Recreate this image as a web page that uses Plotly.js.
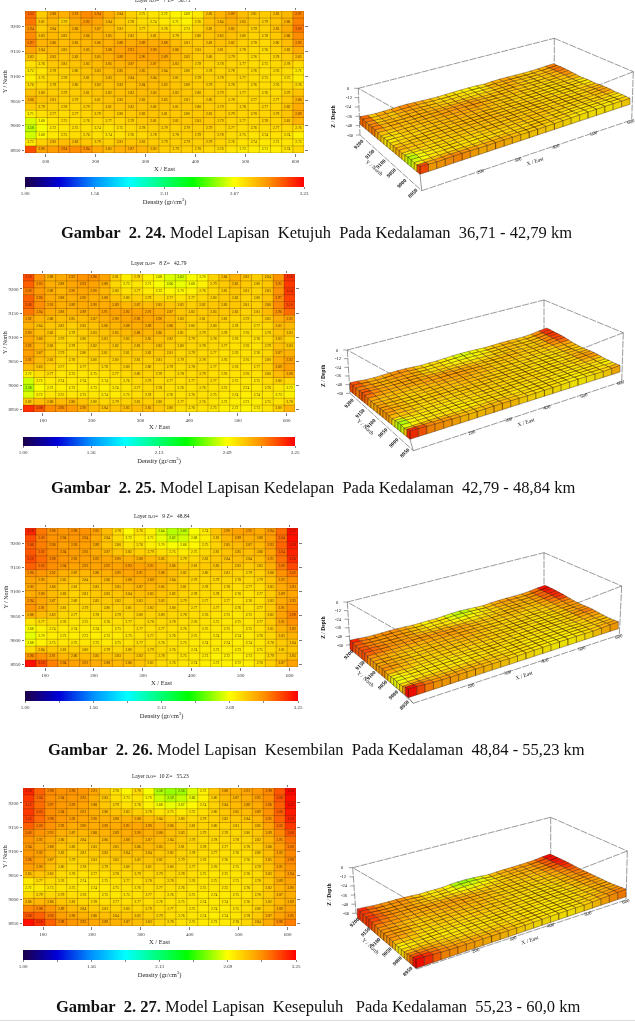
<!DOCTYPE html>
<html><head><meta charset="utf-8">
<script src="https://cdn.plot.ly/plotly-3.0.1.min.js"></script>
<style>html,body{margin:0;padding:0;background:#fff;overflow:hidden}#g{width:635px;height:1025px;filter:blur(.35px)}</style>
</head><body><div id="g"></div>
<script>
// density x100, rows north to south, columns west to east
const density7=[
[302,280,288,287,291,296,294,288,284,279,275,274,272,270,269,273,283,286,289,284,281,280,283,285,297],
[300,281,285,279,288,292,290,284,281,278,276,274,273,271,270,276,283,284,287,283,281,279,282,286,298],
[294,280,284,282,286,288,287,284,281,279,277,277,276,274,273,278,282,284,285,282,279,279,283,288,300],
[296,283,285,283,285,286,286,285,283,282,281,281,281,278,277,280,282,283,283,280,278,278,281,286,296],
[297,286,286,284,285,285,286,287,288,288,289,288,288,284,281,281,282,283,282,279,278,277,280,284,293],
[290,284,285,283,284,285,286,288,290,291,291,290,290,286,282,281,281,281,280,278,277,276,279,282,288],
[282,279,283,282,283,284,285,287,289,290,290,290,289,285,282,280,280,279,279,277,276,276,278,280,283],
[275,276,281,281,282,283,284,285,286,287,287,287,286,283,281,279,279,278,278,277,276,275,277,278,276],
[272,274,279,279,280,282,283,284,285,285,285,285,284,282,280,279,278,278,278,277,276,275,276,276,272],
[271,275,278,278,280,281,282,283,283,284,284,284,283,281,280,279,279,278,278,277,276,275,275,275,272],
[276,277,279,279,280,281,282,282,283,283,284,284,283,282,280,280,279,279,278,277,276,276,276,277,276],
[282,280,280,279,280,281,282,282,283,283,284,283,283,282,281,280,280,279,278,277,277,276,276,279,282],
[286,282,281,279,279,280,281,282,282,283,283,283,283,282,281,280,280,279,278,277,277,277,277,281,286],
[281,279,279,278,278,279,280,281,282,282,282,282,282,281,281,280,280,279,278,278,277,277,278,282,288],
[271,275,277,276,277,278,279,280,280,281,282,282,281,281,280,281,281,280,279,278,278,278,279,282,289],
[262,268,274,275,275,276,277,277,278,279,281,281,280,281,281,281,281,279,278,277,277,278,278,281,286],
[258,266,272,274,275,275,274,274,275,277,278,279,279,279,279,280,279,278,277,276,276,276,277,277,276],
[261,268,273,275,276,276,275,274,275,276,277,278,278,278,279,279,278,278,276,275,274,274,275,274,271],
[272,279,282,284,283,281,279,279,281,281,281,280,279,279,279,279,279,278,276,274,274,273,273,274,273],
[308,290,292,294,296,294,289,285,287,287,286,283,280,279,279,278,277,276,274,272,272,271,272,274,277]];
const density8=[
[310,296,288,290,292,296,296,292,281,273,278,272,268,264,263,268,270,280,284,288,283,281,284,296,316],
[306,295,289,288,291,293,292,288,279,273,275,271,268,266,266,268,272,279,282,285,282,280,283,295,314],
[300,294,289,287,290,291,290,287,280,276,277,274,272,271,270,272,276,279,281,283,281,280,283,296,314],
[306,296,290,288,289,290,289,288,284,280,281,279,278,277,276,277,279,280,282,282,280,280,284,297,312],
[306,297,291,289,289,290,290,290,289,287,287,286,285,284,282,281,282,283,283,283,281,281,286,298,310],
[302,294,290,288,288,289,290,291,292,292,292,291,290,287,283,282,282,283,283,282,280,281,286,296,304],
[292,288,286,285,285,286,287,289,290,291,292,291,290,287,283,281,281,282,281,279,279,279,282,290,292],
[288,284,283,282,281,283,284,286,287,288,289,289,288,286,283,280,280,280,279,278,278,277,279,285,286],
[290,285,283,280,279,281,283,284,285,286,288,287,286,284,281,279,279,279,278,277,276,276,278,284,283],
[291,286,283,279,279,280,282,283,283,283,285,285,284,282,280,279,278,278,277,276,276,276,278,283,280],
[292,287,283,279,279,280,282,282,282,282,283,283,283,281,280,279,278,278,277,276,276,276,279,285,283],
[293,287,283,279,279,280,281,281,281,281,282,282,282,281,279,279,278,277,276,276,276,276,279,287,288],
[292,286,283,279,278,279,280,280,280,281,281,281,281,280,279,278,278,277,276,276,276,277,280,289,292],
[286,283,281,277,276,277,278,278,279,280,280,280,280,279,278,278,278,277,276,276,276,277,280,289,293],
[272,277,277,275,275,275,275,276,277,278,280,280,279,278,278,278,279,277,276,276,276,276,280,286,288],
[262,272,274,274,274,274,274,274,275,276,278,279,278,277,277,277,278,277,275,275,275,275,278,280,279],
[258,268,272,273,273,273,273,273,274,275,277,278,278,277,276,276,276,276,275,274,274,274,276,275,272],
[264,272,275,275,275,275,275,274,274,275,277,278,277,276,276,276,276,275,274,274,273,274,275,273,272],
[282,285,286,286,286,284,280,279,279,280,281,281,280,278,277,276,276,275,273,273,272,273,275,276,278],
[316,308,298,296,294,290,286,284,284,285,286,285,283,280,277,276,276,275,273,272,272,273,276,280,288]];
const density9=[
[318,302,296,295,296,296,292,286,278,270,276,272,264,259,260,268,274,284,290,292,292,290,294,304,322],
[310,300,296,294,295,294,290,284,278,272,274,271,266,262,263,268,273,281,287,289,289,288,293,304,322],
[306,300,296,293,293,293,289,284,280,276,276,273,270,268,268,271,275,280,285,286,287,287,293,305,320],
[308,302,297,294,293,292,290,287,284,282,281,279,277,275,274,275,278,281,284,285,285,286,292,304,318],
[310,304,298,295,293,293,292,291,290,289,288,287,285,282,279,279,281,283,284,285,284,285,291,303,316],
[306,302,297,294,292,292,292,292,292,293,292,291,289,286,283,281,282,283,283,283,282,283,289,300,311],
[296,295,292,289,287,287,288,289,290,291,291,290,288,285,282,280,280,281,281,280,279,281,286,296,302],
[292,290,288,285,283,284,285,286,287,288,289,289,287,284,281,279,279,279,279,278,278,279,284,292,296],
[290,289,286,283,281,282,283,284,285,286,287,287,285,283,281,279,278,278,278,277,277,278,283,290,293],
[290,290,286,283,280,281,283,283,283,284,285,285,284,282,280,278,278,278,277,276,276,277,282,289,291],
[294,291,287,283,280,280,282,282,282,282,283,284,283,281,279,278,277,277,277,276,276,277,282,290,293],
[296,291,286,281,279,279,280,280,281,281,282,282,281,280,279,277,277,277,276,276,276,277,282,291,296],
[288,286,283,279,277,277,278,279,279,279,280,280,280,279,278,277,276,276,275,275,275,277,282,292,299],
[276,277,278,276,275,275,275,276,277,277,278,278,278,278,277,276,276,275,275,275,275,277,282,291,296],
[268,272,274,274,274,274,274,274,275,276,277,277,277,277,276,276,275,275,275,275,275,277,281,288,292],
[265,270,273,273,273,273,273,273,274,275,276,277,277,276,276,275,274,274,274,274,274,276,279,285,288],
[268,272,275,275,275,275,275,274,275,276,277,277,276,275,275,274,274,274,274,273,274,275,278,282,284],
[278,284,283,281,281,280,279,279,279,280,280,279,278,276,275,274,274,273,273,273,273,275,278,281,283],
[296,296,291,287,286,286,285,284,283,283,282,280,278,276,275,274,273,272,272,272,273,275,279,283,285],
[322,310,300,294,292,291,290,288,287,286,284,281,278,276,275,274,273,272,272,272,273,276,281,287,292]];
const density10=[
[318,306,298,296,296,295,291,284,276,271,278,268,258,255,256,264,272,283,288,289,291,294,298,308,324],
[314,304,297,294,294,293,289,283,277,273,276,270,262,259,261,266,272,280,286,287,289,292,297,308,322],
[312,304,297,294,293,292,288,283,279,276,276,272,268,266,267,270,274,280,284,286,288,290,296,306,322],
[314,305,297,294,292,291,289,286,284,282,281,278,276,275,274,275,277,280,283,285,286,289,296,306,320],
[312,304,298,294,292,291,290,289,288,288,288,286,284,282,280,279,279,281,282,283,284,287,295,305,318],
[306,300,296,292,290,290,290,290,290,291,291,290,288,286,283,281,280,280,280,281,282,285,292,302,314],
[300,296,293,289,287,287,288,288,289,290,290,289,288,285,283,280,279,279,279,279,280,283,289,298,308],
[296,292,290,286,284,284,285,286,287,288,288,287,286,284,282,279,278,278,278,278,279,282,287,295,303],
[294,291,288,284,282,282,283,284,285,286,286,286,285,283,281,279,278,277,277,277,278,281,286,293,300],
[294,292,288,283,280,281,282,283,283,284,284,284,283,282,280,278,277,277,276,276,277,280,285,292,298],
[296,292,287,282,279,280,281,281,282,282,282,283,282,281,279,278,276,276,276,276,276,279,285,292,298],
[293,290,285,280,278,278,279,279,280,280,281,281,281,280,279,277,276,276,275,275,276,279,284,291,296],
[285,284,282,278,276,276,277,277,278,278,279,279,279,279,278,277,275,275,275,275,276,278,283,290,294],
[274,277,278,276,275,274,275,275,276,277,277,278,278,278,277,276,275,275,275,275,276,278,283,289,292],
[272,274,275,275,275,274,274,274,275,276,276,277,277,277,276,275,275,275,275,275,276,278,282,288,290],
[278,279,279,279,277,276,275,275,275,275,276,277,277,276,276,275,274,274,274,275,276,278,282,287,289],
[286,287,286,283,281,279,278,277,277,277,277,277,276,276,275,275,274,274,274,275,276,279,282,287,289],
[298,298,295,289,286,284,282,281,280,280,279,279,278,277,276,275,274,274,274,275,277,280,284,289,292],
[308,306,300,293,290,288,286,285,284,283,282,281,279,277,276,275,274,273,274,275,278,282,287,292,295],
[322,316,306,298,295,293,291,289,288,287,285,283,280,278,276,275,274,273,274,276,279,284,290,296,300]];

const eastTicks=[100,200,300,400,500,600];
const northTicks=[8950,9000,9050,9100,9150,9200];
const depthTicks=[0,-12,-24,-36,-48,-60];
const barLabels7=['1.00','1.56','2.11','2.67','3.23'];
const barLabels8=['1.00','1.56','2.13','2.69','3.25'];
const layerTitles=['Layer n.o=   7 Z=   36.71','Layer n.o=   8 Z=   42.79','Layer n.o=   9 Z=   48.84','Layer n.o=  10 Z=   55.23'];
const captionHeads=['Gambar\u00a0 2. 24.','Gambar\u00a0 2. 25.','Gambar\u00a0 2. 26.','Gambar\u00a0 2. 27.'];
const captionTails=[
 ' Model Lapisan\u00a0 Ketujuh\u00a0 Pada Kedalaman\u00a0 36,71 - 42,79 km',
 ' Model Lapisan Kedelapan\u00a0 Pada Kedalaman\u00a0 42,79 - 48,84 km',
 ' Model Lapisan\u00a0 Kesembilan\u00a0 Pada Kedalaman\u00a0 48,84 - 55,23 km',
 ' Model Lapisan\u00a0 Kesepuluh\u00a0\u00a0 Pada Kedalaman\u00a0 55,23 - 60,0 km'];

const W=635,H=1025, SERIF='"Liberation Serif",serif';
const px=x=>x/W, py=y=>1-y/H;
const colorStops=[[0,'#1c0048'],[.125,'#0000d8'],[.25,'#0090ff'],[.375,'#00ffff'],[.6,'#00ff00'],[.75,'#ffff00'],[.875,'#ff9000'],[1,'#ff0000']];
const panels=[
 {z:density7,zmax:3.23,bar:barLabels7,hm:[25,304,11,153],cb:[25,304,177,187],tx:163,ty:0,cap:[59,233],
  top:[[358.3,88.3],[554.3,38.3],[633.3,71.7]],bot:[[360,135],[421.7,190.7],[631.7,120]],
  s:{L:[360,118.3],F:[420,168.3],R:[630,98.3],B:[553.3,65]}},
 {z:density8,zmax:3.25,bar:barLabels8,hm:[23,295,274,412],cb:[23,295,437,446],tx:159,ty:263,cap:[49,487],
  top:[[347.3,350],[544,300],[623.3,332.7]],bot:[[350,393.3],[413.3,450.7],[621.7,381.7]],
  s:{L:[350,385],F:[410,433.3],R:[620,366],B:[546.7,330.7]}},
 {z:density9,zmax:3.25,bar:barLabels8,hm:[25,298,528,667],cb:[25,298,691,701],tx:162,ty:516,cap:[46,749],
  top:[[347.3,602],[544,552.7],[621.7,586]],bot:[[350,645],[413.3,703.3],[619.3,635]],
  s:{L:[350,643],F:[408.3,691.7],R:[618.3,622.7],B:[545,588.3]}},
 {z:density10,zmax:3.25,bar:barLabels8,hm:[23,296,788,926],cb:[23,296,950,960],tx:160,ty:776,cap:[54,1006],
  top:[[352.7,867.7],[550.7,817.3],[627.3,851]],bot:[[356,913.3],[416.7,969],[626,900]],
  s:{L:[357.3,911.7],F:[416,962.3],R:[626,890.7],B:[550,857.3]}}];

const xMin=59,xMax=617,yMin=8945,yMax=9231,nc=25,nr=20;
const dx=(xMax-xMin)/nc,dy=(yMax-yMin)/nr;
const xc=Array.from({length:nc},(_,i)=>xMin+(i+.5)*dx);
const yc=Array.from({length:nr},(_,i)=>yMax-(i+.5)*dy);

function hex(h){return [1,3,5].map(i=>parseInt(h.substr(i,2),16));}
function colorOf(v,zmax,f){
  const t=Math.max(0,Math.min(1,(v-1)/(zmax-1)));
  let i=0;while(i<colorStops.length-2&&t>colorStops[i+1][0])i++;
  const a=colorStops[i],b=colorStops[i+1],k=(t-a[0])/(b[0]-a[0]);
  const A=hex(a[1]),B=hex(b[1]);
  return 'rgb('+A.map((c,j)=>Math.round((c+(B[j]-c)*k)*f)).join(',')+')';
}
const traces=[],annotations=[],shapes=[];
const layout={width:W,height:H,margin:{l:0,r:0,t:0,b:0,autoexpand:false},paper_bgcolor:'#fff',plot_bgcolor:'rgba(0,0,0,0)',showlegend:false,font:{family:SERIF,color:'#222'}};

// overlay axes in page pixels for the oblique block views
layout.xaxis9={domain:[0,1],range:[0,W],visible:false,fixedrange:true,anchor:'y9'};
layout.yaxis9={domain:[0,1],range:[H,0],visible:false,fixedrange:true,anchor:'x9'};
function label(x,y,text,size,angle,bold){annotations.push({xref:'x9',yref:'y9',x,y,text:bold?'<b>'+text+'</b>':text,showarrow:false,textangle:angle,font:{size,family:SERIF,color:'#111'},xanchor:'center',yanchor:'middle'});}
function pageText(x,y,text,size,extra){annotations.push(Object.assign({xref:'paper',yref:'paper',x:px(x),y:py(y),text,showarrow:false,xanchor:'center',yanchor:'middle',font:{size,family:SERIF,color:'#222'}},extra||{}));}

panels.forEach((p,k)=>{
  const n=k+1,xa='x'+n,ya='y'+n,[x0,x1,y0,y1]=p.hm,vals=p.z.map(r=>r.map(v=>v/100));
  traces.push({type:'heatmap',xaxis:xa,yaxis:ya,x:xc,y:yc.slice().reverse(),z:vals.slice().reverse(),zmin:1,zmax:p.zmax,colorscale:colorStops,hoverinfo:'skip',zsmooth:false,
    showscale:true,colorbar:{orientation:'h',x:px(p.cb[0]),xanchor:'left',y:py(p.cb[2]),yanchor:'top',len:p.cb[1]-p.cb[0],lenmode:'pixels',thickness:p.cb[3]-p.cb[2],thicknessmode:'pixels',xpad:0,ypad:0,outlinewidth:0,borderwidth:0,
      tickmode:'array',tickvals:[0,1,2,3,4,5,6,7,8].map(i=>1+i*(p.zmax-1)/8),ticktext:[0,1,2,3,4,5,6,7,8].map(i=>i%2?' ':p.bar[i/2]),ticks:'outside',ticklen:2,tickwidth:.6,tickcolor:'#333',tickfont:{size:5,family:SERIF,color:'#333'},
      title:{text:'Density (gr/cm<sup>3</sup>)',side:'bottom',font:{size:6.5,family:SERIF,color:'#222'}}}});
  // cell edges
  const ex=[],ey=[];
  for(let i=0;i<=nc;i++){ex.push(xMin+i*dx,xMin+i*dx,null);ey.push(yMin,yMax,null);}
  for(let j=0;j<=nr;j++){ex.push(xMin,xMax,null);ey.push(yMin+j*dy,yMin+j*dy,null);}
  traces.push({type:'scatter',mode:'lines',xaxis:xa,yaxis:ya,x:ex,y:ey,line:{color:'rgba(70,40,0,.6)',width:.5},hoverinfo:'skip'});
  // staggered value labels
  const lx=[],ly=[],lt=[];
  vals.forEach((row,r)=>row.forEach((v,c)=>{if((r+c)%2==0){lx.push(xc[c]);ly.push(yc[r]);lt.push(v.toFixed(2));}}));
  traces.push({type:'scatter',mode:'text',xaxis:xa,yaxis:ya,x:lx,y:ly,text:lt,textfont:{size:3.6,family:SERIF,color:'rgba(50,25,0,.9)'},hoverinfo:'skip'});
  const ax={fixedrange:true,showgrid:false,zeroline:false,showline:false,ticks:'outside',ticklen:2.5,tickwidth:.6,tickcolor:'#222',mirror:'ticks',tickfont:{size:5,family:SERIF,color:'#333'},tickmode:'array'};
  layout['xaxis'+n]=Object.assign({},ax,{domain:[px(x0),px(x1)],range:[xMin,xMax],anchor:ya,tickvals:eastTicks,ticktext:eastTicks.map(String)});
  layout['yaxis'+n]=Object.assign({},ax,{domain:[py(y1),py(y0)],range:[yMin,yMax],anchor:xa,tickvals:northTicks,ticktext:northTicks.map(String)});
  pageText((x0+x1)/2,y1+15,'X / East',6.5);
  pageText(5,(y0+y1)/2,'Y / North',6,{textangle:-90});
  pageText(p.tx,p.ty,layerTitles[k].replace(/ /g,'\u00a0'),5.5);
  annotations.push({xref:'paper',yref:'paper',x:px(p.cap[0]),y:py(p.cap[1]),xanchor:'left',yanchor:'middle',text:'<b>'+captionHeads[k]+'</b>'+captionTails[k],showarrow:false,font:{size:16.5,family:SERIF,color:'#111'}});

  // oblique view: u runs west to east, v south to north
  const S=p.s;
  const base=(u,v)=>[0,1].map(i=>(1-u)*(1-v)*S.F[i]+u*(1-v)*S.R[i]+(1-u)*v*S.L[i]+u*v*S.B[i]);
  const rel=v=>Math.abs(v-2.78)*7;
  const vert=(c,r)=>{ // vertex at column line c, row line r
    let s=0,m=0;
    for(const [a,b] of [[c-1,r-1],[c,r-1],[c-1,r],[c,r]]) if(a>=0&&a<nc&&b>=0&&b<nr){s+=vals[b][a];m++;}
    const q=base(c/nc,1-r/nr);
    return [q[0],q[1]-rel(s/m)];
  };
  const bot=(c,r)=>{const q=base(c/nc,1-r/nr);return [q[0],q[1]+6];};
  // box
  const [tL,tB,tR]=p.top,[bL,bF,bR]=p.bot;
  const tF=[tL[0]+tR[0]-tB[0]+16,tL[1]+tR[1]-tB[1]+20];
  const edges=[[tL,tB],[tB,tR],[tR,tF],[tF,tL],[tL,bL],[tR,bR],[tB,[tB[0],tB[1]+60]],[bL,bF],[bF,bR]];
  const bx=[],by=[];edges.forEach(e=>{bx.push(e[0][0],e[1][0],null);by.push(e[0][1],e[1][1],null);});
  traces.push({type:'scatter',mode:'lines',xaxis:'x9',yaxis:'y9',x:bx,y:by,line:{color:'#555',width:.6,dash:'7px,1.2px'},hoverinfo:'skip'});
  // polygons grouped by colour
  const groups=new Map();
  const add=(poly,v,f)=>{const q=Math.round(v*50)/50,key=f+'|'+q;if(!groups.has(key))groups.set(key,{f,q,x:[],y:[]});const g=groups.get(key);poly.concat([poly[0]]).forEach(a=>{g.x.push(a[0]);g.y.push(a[1]);});g.x.push(null);g.y.push(null);};
  for(let r=0;r<nr;r++)add([vert(0,r),vert(0,r+1),bot(0,r+1),bot(0,r)],vals[r][0],.92);
  for(let c=0;c<nc;c++)add([vert(c,nr),vert(c+1,nr),bot(c+1,nr),bot(c,nr)],vals[nr-1][c],.92);
  for(let r=0;r<nr;r++)for(let c=0;c<nc;c++)add([vert(c,r),vert(c+1,r),vert(c+1,r+1),vert(c,r+1)],vals[r][c],1);
  [...groups.values()].sort((a,b)=>a.f-b.f).forEach(g=>{
    const col=colorOf(g.q,p.zmax,g.f);
    traces.push({type:'scatter',mode:'lines',xaxis:'x9',yaxis:'y9',x:g.x,y:g.y,fill:'toself',fillcolor:col,line:{color:'rgba(40,15,0,.7)',width:.5},hoverinfo:'skip'});
  });
  // short front post
  const fp=bot(0,nr);
  traces.push({type:'scatter',mode:'lines',xaxis:'x9',yaxis:'y9',x:[bF[0],fp[0]],y:[bF[1],fp[1]],line:{color:'#555',width:.6},hoverinfo:'skip'});
  // axis labels of the block view
  const lerp=(a,b,t)=>[a[0]+(b[0]-a[0])*t,a[1]+(b[1]-a[1])*t];
  northTicks.forEach(t=>{const q=lerp(bF,bL,(t-yMin)/(yMax-yMin));label(q[0]-8,q[1]+3,String(t),5.5,-45,true);});
  eastTicks.slice(1).forEach(t=>{const q=lerp(bF,bR,(t-xMin)/(xMax-xMin));label(q[0]+6,q[1]-1,String(t),5,-19,false);});
  const zx=[],zy=[];
  depthTicks.forEach((t,i)=>{const q=lerp(tL,bL,i/5);zx.push(q[0],q[0]-4,null);zy.push(q[1],q[1],null);label(q[0]-10,q[1],String(t),4.5,0,false);});
  traces.push({type:'scatter',mode:'lines',xaxis:'x9',yaxis:'y9',x:zx,y:zy,line:{color:'#444',width:.5},hoverinfo:'skip'});
  const mid=lerp(bF,bL,.5);label(mid[0]-16,mid[1]+5,'Y / North',5.5,42,false);
  const midx=lerp(bF,bR,.52);label(midx[0]+4,midx[1]+7,'X / East',5.5,-19,false);
  const mz=lerp(tL,bL,.6);label(mz[0]-26,mz[1],'Z / Depth',5.5,-90,true);
});
shapes.push({type:'line',xref:'paper',yref:'paper',x0:0,x1:1,y0:py(1020.5),y1:py(1020.5),line:{color:'#dcdcdc',width:1}});
layout.annotations=annotations;layout.shapes=shapes;
Plotly.newPlot('g',traces,layout,{staticPlot:true,displayModeBar:false,responsive:false});
</script></body></html>
